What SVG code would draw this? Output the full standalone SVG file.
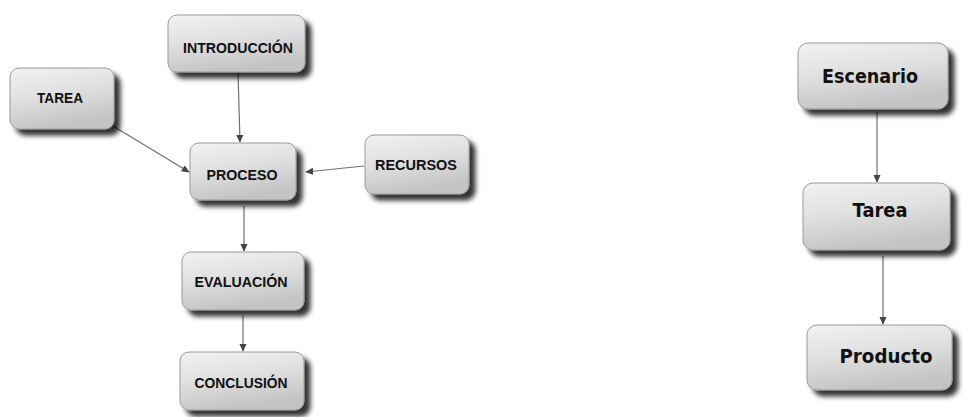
<svg xmlns="http://www.w3.org/2000/svg" width="963" height="417" viewBox="0 0 963 417">
<defs>
<linearGradient id="g" x1="0" y1="0" x2="0.3" y2="1">
<stop offset="0" stop-color="#f2f2f2"/>
<stop offset="0.5" stop-color="#e0e0e0"/>
<stop offset="1" stop-color="#c4c4c4"/>
</linearGradient>
<filter id="sh" x="-20%" y="-20%" width="150%" height="160%">
<feDropShadow dx="6" dy="6" stdDeviation="2.5" flood-color="#000" flood-opacity="0.8"/>
</filter>
<marker id="ar" viewBox="0 0 10 10" refX="9" refY="5" markerWidth="8" markerHeight="8" orient="auto" markerUnits="userSpaceOnUse">
<path d="M0,0.5 L10,5 L0,9.5 z" fill="#444"/>
</marker>
<style>
.box{fill:url(#g);stroke:#9a9a9a;stroke-width:1;filter:url(#sh)}
.t{font-family:"Liberation Sans",Arial,sans-serif;font-weight:bold;font-size:15px;fill:#111;text-anchor:middle}
.t2{font-family:"DejaVu Sans","Liberation Sans",sans-serif;font-weight:bold;font-size:20px;fill:#111;text-anchor:middle}
.c{stroke:#707070;stroke-width:1.2;fill:none;marker-end:url(#ar)}
</style>
</defs>
<rect width="963" height="417" fill="#fff"/>
<g id="connectors">
<line class="c" x1="238" y1="72" x2="240" y2="142"/>
<line class="c" x1="113" y1="126" x2="189" y2="172"/>
<line class="c" x1="364" y1="166" x2="306" y2="172"/>
<line class="c" x1="244" y1="206" x2="244" y2="251"/>
<line class="c" x1="243" y1="316" x2="243" y2="351"/>
<line class="c" x1="877" y1="112" x2="877" y2="182"/>
<line class="c" x1="883" y1="256" x2="883" y2="324"/>
</g>
<g id="introduccion">
<rect class="box" x="168" y="15" width="137" height="57" rx="9"/>
<text class="t" x="238" y="53" textLength="110" lengthAdjust="spacingAndGlyphs">INTRODUCCIÓN</text>
</g>
<g id="tarea-left">
<rect class="box" x="10" y="68" width="104" height="61" rx="9"/>
<text class="t" x="60" y="103" textLength="46" lengthAdjust="spacingAndGlyphs">TAREA</text>
</g>
<g id="proceso">
<rect class="box" x="190" y="143" width="106" height="57" rx="9"/>
<text class="t" x="242" y="180" textLength="71" lengthAdjust="spacingAndGlyphs">PROCESO</text>
</g>
<g id="recursos">
<rect class="box" x="365" y="135" width="104" height="59" rx="9"/>
<text class="t" x="416" y="170" textLength="82" lengthAdjust="spacingAndGlyphs">RECURSOS</text>
</g>
<g id="evaluacion">
<rect class="box" x="182" y="252" width="122" height="58" rx="9"/>
<text class="t" x="241" y="287" textLength="93" lengthAdjust="spacingAndGlyphs">EVALUACIÓN</text>
</g>
<g id="conclusion">
<rect class="box" x="180" y="352" width="124" height="58" rx="9"/>
<text class="t" x="241" y="388" textLength="93" lengthAdjust="spacingAndGlyphs">CONCLUSIÓN</text>
</g>
<g id="escenario">
<rect class="box" x="798" y="43" width="150" height="66" rx="10"/>
<text class="t2" x="870" y="83" textLength="96" lengthAdjust="spacingAndGlyphs">Escenario</text>
</g>
<g id="tarea-right">
<rect class="box" x="803" y="183" width="147" height="67" rx="10"/>
<text class="t2" x="880" y="217" textLength="55" lengthAdjust="spacingAndGlyphs">Tarea</text>
</g>
<g id="producto">
<rect class="box" x="807" y="325" width="145" height="65" rx="10"/>
<text class="t2" x="886" y="363" textLength="93" lengthAdjust="spacingAndGlyphs">Producto</text>
</g>
</svg>
